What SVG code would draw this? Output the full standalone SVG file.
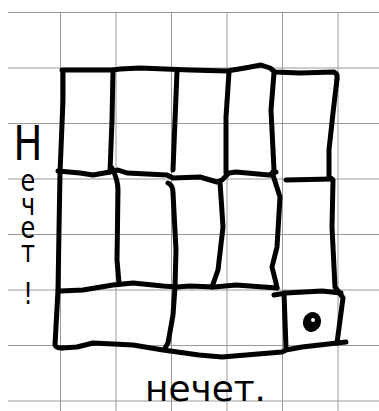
<svg xmlns="http://www.w3.org/2000/svg" width="379" height="411" viewBox="0 0 379 411">
<style>
.grid line{stroke:#9a9a9a;stroke-width:1}
.ink{fill:none;stroke:#000;stroke-width:5;stroke-linecap:round;stroke-linejoin:round}
.hand{font-family:"DejaVu Sans","Liberation Sans",sans-serif;fill:#000}
</style>
<rect width="379" height="411" fill="#fff"/>
<g id="paper" class="grid">
<line x1="8" y1="12.5" x2="379" y2="12.5"/>
<line x1="8" y1="68" x2="379" y2="68"/>
<line x1="8" y1="123.5" x2="379" y2="123.5"/>
<line x1="8" y1="179" x2="379" y2="179"/>
<line x1="8" y1="234.5" x2="379" y2="234.5"/>
<line x1="8" y1="290" x2="379" y2="290"/>
<line x1="8" y1="345.5" x2="379" y2="345.5"/>
<line x1="8" y1="401" x2="379" y2="401"/>
<line x1="60.5" y1="12" x2="60.5" y2="411"/>
<line x1="116" y1="12" x2="116" y2="411"/>
<line x1="171.5" y1="12" x2="171.5" y2="411"/>
<line x1="227" y1="12" x2="227" y2="411"/>
<line x1="282.5" y1="12" x2="282.5" y2="411"/>
<line x1="338" y1="12" x2="338" y2="411"/>
</g>
<g id="board" class="ink">
<path d="M62,70 L113,70 L120,69 L140,68 L190,70 L227,71 L245,68 L261,65 L270,68 L275,72 L300,73 L334,72 Q338,74 337,79"/>
<path d="M337,79 L333,113 L329,150 L329,177 L333,180 L332,227 L335,287 L341,295 L343,298 L337,343"/>
<path d="M63,72 L63,100 L60,173 L59,230 L58,290 L55,345 Q56,348 62,348"/>
<path d="M58,171 L80,173 L93,175 L110,172 L118,170 L127,173 L167,175 L173,178 L200,177 L217,182 L222,180 L229,173 L236,172 L269,175 L276,172"/>
<path d="M286,180 L332,179"/>
<path d="M60,291 L83,290 L113,285 L133,283 L163,286 L177,287 L190,286 L214,287 L236,285 L277,288"/>
<path d="M274,295 L286,293 L322,291 L341,293"/>
<path d="M62,348 L77,347 L93,343 L133,345 L163,350 L199,355 L222,357 L282,352 L286,350 L302,347 L337,343 L346,342"/>
<path d="M284,293 L286,348"/>
<path d="M113,70 L112,120 L110,172"/>
<path d="M112,168 Q118,180 118,190 L117,260 L119,283"/>
<path d="M177,72 L175,120 L173,170"/>
<path d="M168,183 Q173,185 173,193 L176,250 L175,287 L173,315 L168,343 L165,348"/>
<path d="M229,72 L226,117 L226,173"/>
<path d="M220,182 L223,227 L218,270 L212,287"/>
<path d="M274,73 L271,110 L274,170 L271,175"/>
<path d="M273,175 L280,197 L277,247 L272,267 L276,283 L277,288"/>
</g>
<g id="dot">
<ellipse cx="312" cy="322" rx="9" ry="10" transform="rotate(20 312 322)" fill="#000"/>
<circle cx="313" cy="320" r="2" fill="#fff"/>
</g>
<g id="labels">
<text class="hand" transform="translate(28,0) scale(0.8,1)" font-size="30" text-anchor="middle"><tspan x="0" y="160" font-size="48">Н</tspan><tspan x="0" y="191">е</tspan><tspan x="0" y="215">ч</tspan><tspan x="0" y="238">е</tspan><tspan x="0" y="262">т</tspan><tspan x="0" y="304">!</tspan></text>
<text class="hand" x="145" y="401" font-size="36" textLength="121" lengthAdjust="spacingAndGlyphs">нечет.</text>
</g>
</svg>
